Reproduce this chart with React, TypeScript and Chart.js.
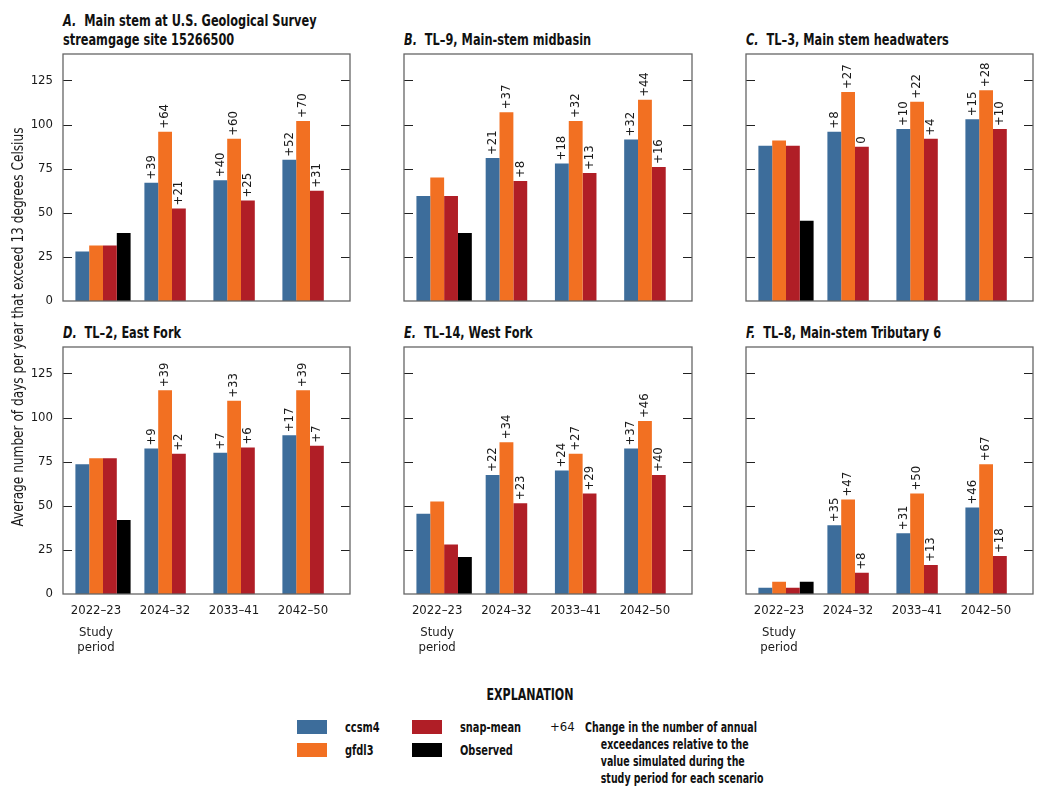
import React, { useEffect, useRef } from 'react';
import { Chart, registerables } from 'chart.js';
Chart.register(...registerables);

const FONT = "'Liberation Sans Narrow','DejaVu Sans Condensed','Arial Narrow','Roboto Condensed',sans-serif";

// ---- data ----
const periods: (string | string[])[] = [['2022–23', '', '', 'Study', '', 'period'], '2024–32', '2033–41', '2042–50'];
const yTickValues = [0, 25, 50, 75, 100, 125];
const yMax = 140;
const seriesNames = ['ccsm4', 'gfdl3', 'snap-mean', 'Observed'];

// Panel A – Main stem at streamgage 15266500
const ccsm4A = [28, 67, 68.5, 80];
const gfdl3A = [31.5, 96, 92, 102];
const snapA = [31.5, 52.5, 57, 62.5];
const obsA = 38.5;
const chgCcsm4A = [39, 40, 52];
const chgGfdl3A = [64, 60, 70];
const chgSnapA = [21, 25, 31];

// Panel B – TL-9
const ccsm4B = [59.5, 81, 78, 91.5];
const gfdl3B = [70, 107, 102, 114];
const snapB = [59.5, 68, 72.5, 76];
const obsB = 38.5;
const chgCcsm4B = [21, 18, 32];
const chgGfdl3B = [37, 32, 44];
const chgSnapB = [8, 13, 16];

// Panel C – TL-3
const ccsm4C = [88, 96, 97.5, 103];
const gfdl3C = [91, 118.5, 113, 119.5];
const snapC = [88, 87.5, 92, 97.5];
const obsC = 45.5;
const chgCcsm4C = [8, 10, 15];
const chgGfdl3C = [27, 22, 28];
const chgSnapC = [0, 4, 10];

// Panel D – TL-2
const ccsm4D = [73.5, 82.5, 80, 90];
const gfdl3D = [77, 115.5, 109.5, 115.5];
const snapD = [77, 79.5, 83, 84];
const obsD = 42;
const chgCcsm4D = [9, 7, 17];
const chgGfdl3D = [39, 33, 39];
const chgSnapD = [2, 6, 7];

// Panel E – TL-14
const ccsm4E = [45.5, 67.5, 70, 82.5];
const gfdl3E = [52.5, 86, 79.5, 98];
const snapE = [28, 51.5, 57, 67.5];
const obsE = 21;
const chgCcsm4E = [22, 24, 37];
const chgGfdl3E = [34, 27, 46];
const chgSnapE = [23, 29, 40];

// Panel F – TL-8
const ccsm4F = [3.5, 39, 34.5, 49];
const gfdl3F = [7, 53.5, 57, 73.5];
const snapF = [3.5, 12, 16.5, 21.5];
const obsF = 7;
const chgCcsm4F = [35, 31, 46];
const chgGfdl3F = [47, 50, 67];
const chgSnapF = [8, 13, 18];

// ---- styles ----
const COLORS = ['#3d6d9b', '#f27022', '#b01e26', '#000000'];
const FX = 5.5; // frame inset
const TICK = 9;

type PanelDef = {
  letter: string;
  title: string[];
  left: number;
  top: number;
  width: number;
  height: number;
  showY: boolean;
  showX: boolean;
  series: number[][];
  obs: number;
  changes: number[][];
};

const panels: PanelDef[] = [
  { letter: 'A.', title: ['Main stem at U.S. Geological Survey', 'streamgage site 15266500'], left: 63, top: 54, width: 286.5, height: 247, showY: true, showX: false, series: [ccsm4A, gfdl3A, snapA], obs: obsA, changes: [chgCcsm4A, chgGfdl3A, chgSnapA] },
  { letter: 'B.', title: ['TL–9, Main-stem midbasin'], left: 404, top: 54, width: 288, height: 247, showY: false, showX: false, series: [ccsm4B, gfdl3B, snapB], obs: obsB, changes: [chgCcsm4B, chgGfdl3B, chgSnapB] },
  { letter: 'C.', title: ['TL–3, Main stem headwaters'], left: 746, top: 54, width: 287, height: 247, showY: false, showX: false, series: [ccsm4C, gfdl3C, snapC], obs: obsC, changes: [chgCcsm4C, chgGfdl3C, chgSnapC] },
  { letter: 'D.', title: ['TL–2, East Fork'], left: 63, top: 347, width: 287, height: 247, showY: true, showX: true, series: [ccsm4D, gfdl3D, snapD], obs: obsD, changes: [chgCcsm4D, chgGfdl3D, chgSnapD] },
  { letter: 'E.', title: ['TL–14, West Fork'], left: 404, top: 347, width: 288, height: 247, showY: false, showX: true, series: [ccsm4E, gfdl3E, snapE], obs: obsE, changes: [chgCcsm4E, chgGfdl3E, chgSnapE] },
  { letter: 'F.', title: ['TL–8, Main-stem Tributary 6'], left: 746, top: 347, width: 287, height: 247, showY: false, showX: true, series: [ccsm4F, gfdl3F, snapF], obs: obsF, changes: [chgCcsm4F, chgGfdl3F, chgSnapF] },
];

const fmt = (v: number) => (v > 0 ? '+' + v : String(v));

function Panel({ def }: { def: PanelDef }) {
  const ref = useRef<HTMLCanvasElement>(null);
  const YW = def.showY ? 63 : 10;
  const PT = 4;
  const PB = 2;
  const RP = 4;
  const XH = def.showX ? 70 : 2;
  const cw = Math.round(YW + def.width + RP);
  const ch = Math.round(PT + def.height + XH + PB);

  useEffect(() => {
    const framePlugin = {
      id: 'frameTicks',
      afterDraw(chart: any) {
        const { ctx, chartArea: a, scales } = chart;
        const ys = scales.y;
        const l = a.left - FX;
        const r = a.right + FX;
        ctx.save();
        ctx.strokeStyle = '#222';
        ctx.lineWidth = 1;
        ys.ticks.forEach((t: any) => {
          if (t.value === 0) return;
          const py = Math.round(ys.getPixelForValue(t.value)) + 0.5;
          ctx.beginPath();
          ctx.moveTo(l, py);
          ctx.lineTo(l + TICK, py);
          ctx.moveTo(r - TICK, py);
          ctx.lineTo(r, py);
          ctx.stroke();
        });
        ctx.strokeStyle = '#666';
        ctx.lineWidth = 1.3;
        ctx.strokeRect(l, a.top, r - l, a.bottom - a.top);
        ctx.restore();
      },
    };
    const labelPlugin = {
      id: 'changeLabels',
      afterDatasetsDraw(chart: any) {
        const ctx = chart.ctx;
        ctx.save();
        ctx.font = `13px ${FONT}`;
        ctx.fillStyle = '#1a1a1a';
        def.changes.forEach((arr, di) => {
          const meta = chart.getDatasetMeta(di);
          arr.forEach((v, j) => {
            const el = meta.data[j + 1];
            if (!el) return;
            ctx.save();
            ctx.translate(el.x, el.y - 3);
            ctx.rotate(-Math.PI / 2);
            ctx.textAlign = 'left';
            ctx.textBaseline = 'middle';
            ctx.fillText(fmt(v), 0, 0);
            ctx.restore();
          });
        });
        ctx.restore();
      },
    };

    const datasets = [
      ...def.series.map((s, i) => ({ label: seriesNames[i], data: s, backgroundColor: COLORS[i], borderWidth: 0 })),
      { label: seriesNames[3], data: [def.obs, null, null, null], backgroundColor: COLORS[3], borderWidth: 0 },
    ];

    const chart = new Chart(ref.current!, {
      type: 'bar',
      data: { labels: periods as any, datasets: datasets as any },
      options: {
        animation: false,
        responsive: false,
        maintainAspectRatio: false,
        layout: { padding: { left: 0, right: RP + FX, top: PT, bottom: PB } },
        datasets: { bar: { categoryPercentage: 0.8, barPercentage: 1 } },
        plugins: { legend: { display: false }, tooltip: { enabled: false }, title: { display: false } },
        scales: {
          x: {
            type: 'category',
            offset: true,
            grid: { display: false, drawTicks: false },
            border: { display: false },
            ticks: {
              display: def.showX,
              autoSkip: false,
              maxRotation: 0,
              minRotation: 0,
              labelOffset: -7,
              padding: 13,
              color: '#1a1a1a',
              font: { family: FONT, size: 13, lineHeight: 7.3 / 13 },
            },
            afterFit: (s: any) => {
              s.height = XH;
              s.paddingLeft = 0;
              s.paddingRight = 0;
            },
          },
          y: {
            min: 0,
            max: yMax,
            grid: { display: false, drawTicks: false },
            border: { display: false },
            ticks: {
              display: def.showY,
              padding: 15.5,
              color: '#1a1a1a',
              font: { family: FONT, size: 13 },
            },
            afterBuildTicks: (s: any) => {
              s.ticks = yTickValues.map((v) => ({ value: v }));
            },
            afterFit: (s: any) => {
              s.width = YW + FX;
              s.paddingTop = 0;
              s.paddingBottom = 0;
            },
          },
        },
      },
      plugins: [framePlugin, labelPlugin],
    });
    return () => chart.destroy();
  }, []);

  return (
    <>
      <div
        style={{
          position: 'absolute',
          left: def.left,
          top: def.top - 18.5 * def.title.length - 5,
          font: `bold 15px ${FONT}`,
          lineHeight: '18.5px',
          color: '#111',
          whiteSpace: 'nowrap',
          transform: 'scaleX(0.84)',
          transformOrigin: '0 50%',
        }}
      >
        {def.title.map((t, i) => (
          <div key={i}>
            {i === 0 ? (
              <>
                <i>{def.letter}</i>
                {'\u00a0 '}
              </>
            ) : null}
            {t}
          </div>
        ))}
      </div>
      <canvas
        ref={ref}
        width={cw}
        height={ch}
        style={{ position: 'absolute', left: def.left - YW, top: def.top - PT, width: cw, height: ch }}
      />
    </>
  );
}

export default function App() {
  const legendText: React.CSSProperties = {
    position: 'absolute',
    font: `bold 14px ${FONT}`,
    color: '#111',
    whiteSpace: 'nowrap',
    lineHeight: '16px',
    transform: 'scaleX(0.78)',
    transformOrigin: '0 50%',
  };
  const sw = (left: number, top: number, c: string): React.CSSProperties => ({ position: 'absolute', left, top, width: 30, height: 14, background: c });
  return (
    <div style={{ position: 'absolute', left: 0, top: 0, width: 1047, height: 793, background: '#fff', overflow: 'hidden' }}>
      {panels.map((p) => (
        <Panel key={p.letter} def={p} />
      ))}
      <div
        style={{
          position: 'absolute',
          left: 19 - 260,
          top: 327 - 10,
          width: 520,
          height: 20,
          lineHeight: '20px',
          textAlign: 'center',
          transform: 'rotate(-90deg) scaleX(0.9)',
          transformOrigin: '50% 50%',
          font: `15px ${FONT}`,
          color: '#1a1a1a',
          whiteSpace: 'nowrap',
        }}
      >
        Average number of days per year that exceed 13 degrees Celsius
      </div>
      <div
        style={{
          position: 'absolute',
          left: 430,
          width: 200,
          textAlign: 'center',
          top: 686,
          font: `bold 15px ${FONT}`,
          lineHeight: '18px',
          color: '#111',
          transform: 'scaleX(0.82)',
          transformOrigin: '50% 50%',
        }}
      >
        EXPLANATION
      </div>
      <div style={sw(297, 720, COLORS[0])} />
      <div style={sw(297, 743, COLORS[1])} />
      <div style={sw(412, 720, COLORS[2])} />
      <div style={sw(412, 743, COLORS[3])} />
      <div style={{ ...legendText, left: 345, top: 719 }}>{seriesNames[0]}</div>
      <div style={{ ...legendText, left: 345, top: 742 }}>{seriesNames[1]}</div>
      <div style={{ ...legendText, left: 460, top: 719 }}>{seriesNames[2]}</div>
      <div style={{ ...legendText, left: 460, top: 742 }}>{seriesNames[3]}</div>
      <div style={{ ...legendText, left: 550, top: 719, font: `13px ${FONT}`, transform: 'none' }}>+64</div>
      <div style={{ ...legendText, left: 585, top: 718.5, lineHeight: '17px', transformOrigin: '0 0', transform: 'scaleX(0.75)' }}>
        <div>Change in the number of annual</div>
        <div style={{ paddingLeft: 21 }}>exceedances relative to the</div>
        <div style={{ paddingLeft: 21 }}>value simulated during the</div>
        <div style={{ paddingLeft: 21 }}>study period for each scenario</div>
      </div>
    </div>
  );
}
